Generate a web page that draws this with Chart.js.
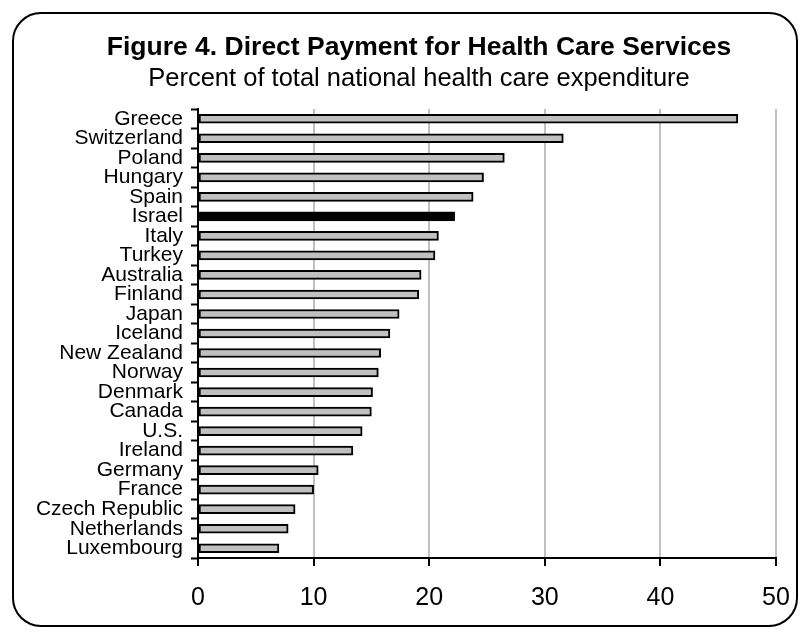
<!DOCTYPE html>
<html>
<head>
<meta charset="utf-8">
<script src="https://cdn.jsdelivr.net/npm/chart.js@4"></script>
<style>
html,body{margin:0;padding:0;background:#fff;overflow:hidden;}
#wrap{width:807px;height:637px;position:relative;overflow:hidden;}
#c{position:absolute;left:0;top:0;}
</style>
</head>
<body>
<div id="wrap"><canvas id="c" width="838" height="637"></canvas></div>
<script>
const titleText = "Figure 4. Direct Payment for Health Care Services";
const subtitleText = "Percent of total national health care expenditure";
const categories = ["Greece","Switzerland","Poland","Hungary","Spain","Israel","Italy","Turkey","Australia","Finland","Japan","Iceland","New Zealand","Norway","Denmark","Canada","U.S.","Ireland","Germany","France","Czech Republic","Netherlands","Luxembourg"];
const values = [46.7,31.6,26.5,24.7,23.8,22.2,20.8,20.5,19.3,19.1,17.4,16.6,15.8,15.6,15.1,15.0,14.2,13.4,10.4,10.0,8.4,7.8,7.0];
const highlight = "Israel";
const xTicks = [0,10,20,30,40,50];

const FONT = "'Liberation Sans', Arial, sans-serif";

const framePlugin = {
  id: 'frame',
  beforeDraw(chart){
    const ctx = chart.ctx;
    ctx.save();
    ctx.fillStyle = '#fff';
    ctx.fillRect(0,0,chart.width,chart.height);
    ctx.restore();
  },
  afterDraw(chart){
    const ctx = chart.ctx;
    const x=13,y=13,w=784,h=613,r=28;
    ctx.save();
    ctx.strokeStyle='#000';
    ctx.lineWidth=2;
    ctx.beginPath();
    ctx.moveTo(x+r,y);
    ctx.lineTo(x+w-r,y);
    ctx.arcTo(x+w,y,x+w,y+r,r);
    ctx.lineTo(x+w,y+h-r);
    ctx.arcTo(x+w,y+h,x+w-r,y+h,r);
    ctx.lineTo(x+r,y+h);
    ctx.arcTo(x,y+h,x,y+h-r,r);
    ctx.lineTo(x,y+r);
    ctx.arcTo(x,y,x+r,y,r);
    ctx.closePath();
    ctx.stroke();
    ctx.restore();
  }
};

new Chart(document.getElementById('c'), {
  type: 'bar',
  data: {
    labels: categories,
    datasets: [{
      data: values,
      backgroundColor: categories.map(c => c === highlight ? '#000000' : '#c0c0c0'),
      borderColor: '#000000',
      borderWidth: 2,
      borderSkipped: false,
      barThickness: 9
    }]
  },
  plugins: [framePlugin],
  options: {
    indexAxis: 'y',
    responsive: false,
    animation: false,
    devicePixelRatio: 1,
    layout: { padding: { top: 0, left: 0, right: 0, bottom: 27 } },
    plugins: {
      legend: { display: false },
      tooltip: { enabled: false },
      title: {
        display: true,
        text: titleText,
        color: '#000',
        font: { family: FONT, size: 26.5, weight: 'bold', lineHeight: 1.2 },
        padding: { top: 32, bottom: 0 }
      },
      subtitle: {
        display: true,
        text: subtitleText,
        color: '#000',
        font: { family: FONT, size: 25.5, weight: 'normal', lineHeight: 1.2 },
        padding: { top: 0, bottom: 14.6 }
      }
    },
    scales: {
      x: {
        type: 'linear',
        min: 0, max: 50,
        afterBuildTicks(scale){ scale.ticks = xTicks.map(v => ({value: v})); },
        afterFit(scale){ scale.height = 52; },
        ticks: {
          color: '#000',
          font: { family: FONT, size: 25 },
          padding: 17,
          maxRotation: 0
        },
        grid: {
          color: ctx => (ctx.tick && ctx.tick.value === 0) ? 'rgba(0,0,0,0)' : '#c0c0c0',
          lineWidth: 2,
          drawTicks: true,
          tickLength: 8,
          tickColor: '#000',
          tickWidth: 2
        },
        border: { display: true, color: '#000', width: 2 }
      },
      y: {
        type: 'category',
        offset: true,
        afterFit(scale){ scale.width = 198; },
        ticks: {
          color: '#000',
          font: { family: FONT, size: 21 },
          padding: 8,
          autoSkip: false
        },
        grid: {
          offset: true,
          drawOnChartArea: false,
          drawTicks: true,
          tickLength: 7,
          tickColor: '#000',
          tickWidth: 2
        },
        border: { display: true, color: '#000', width: 2 }
      },
      spacer: {
        type: 'linear',
        position: 'right',
        axis: 'y',
        display: true,
        afterFit(scale){ scale.width = 62; },
        ticks: { display: false },
        grid: { display: false, drawTicks: false },
        border: { display: false }
      }
    }
  }
});
</script>
</body>
</html>
